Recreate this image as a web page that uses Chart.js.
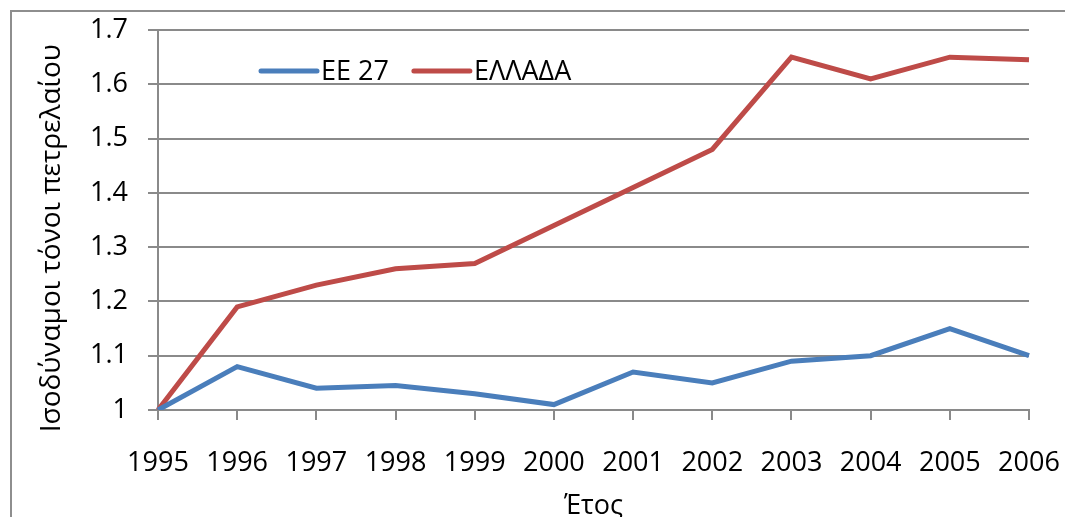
<!DOCTYPE html>
<html>
<head>
<meta charset="utf-8">
<script src="https://cdn.jsdelivr.net/npm/chart.js@4/dist/chart.umd.min.js"></script>
<style>
  html, body { margin: 0; padding: 0; background: #fff; overflow: hidden; }
  #wrap { position: relative; width: 1065px; height: 517px; }
  #frame {
    position: absolute; left: 10px; top: 10px; width: 1100px; height: 600px;
    border-left: 2px solid #8e8e8e; border-top: 2px solid #8e8e8e;
  }
  #chart { position: absolute; left: 0; top: 0; }
</style>
</head>
<body>
<div id="wrap">
  <div id="frame"></div>
  <canvas id="chart" width="1065" height="517"></canvas>
</div>
<script>
// Years on the x axis
const years = ["1995", "1996", "1997", "1998", "1999", "2000", "2001", "2002", "2003", "2004", "2005", "2006"];

// Index values (1995 = 1)
const ee27 = [1.0, 1.08, 1.04, 1.045, 1.03, 1.01, 1.07, 1.05, 1.09, 1.10, 1.15, 1.10];
const ellada = [1.0, 1.19, 1.23, 1.26, 1.27, 1.34, 1.41, 1.48, 1.65, 1.61, 1.65, 1.645];

const seriesNames = ["ΕΕ 27", "ΕΛΛΑΔΑ"];
const yTitle = "Ισοδύναμοι τόνοι πετρελαίου";
const xTitle = "Έτος";

const FONT = "'Open Sans', sans-serif";
const GRID = "#8a8a8a";

// legend drawn inside the plot area, like the original
const insideLegend = {
  id: "insideLegend",
  afterDatasetsDraw(chart) {
    const ctx = chart.ctx;
    const area = chart.chartArea;
    const y = area.top + 41;
    let x = area.left + 103;
    ctx.save();
    ctx.font = "27px " + FONT;
    ctx.textBaseline = "middle";
    ctx.lineCap = "round";
    chart.data.datasets.forEach((ds) => {
      ctx.strokeStyle = ds.borderColor;
      ctx.lineWidth = 5;
      ctx.beginPath();
      ctx.moveTo(x, y);
      ctx.lineTo(x + 56, y);
      ctx.stroke();
      ctx.fillStyle = "#000";
      ctx.fillText(ds.label, x + 60, y + 1);
      x += 60 + ctx.measureText(ds.label).width + 25;
    });
    ctx.restore();
  }
};

new Chart(document.getElementById("chart"), {
  type: "line",
  data: {
    labels: years,
    datasets: [
      {
        label: seriesNames[0],
        data: ee27,
        borderColor: "#4a7ebb",
        backgroundColor: "#4a7ebb",
        borderWidth: 5,
        pointRadius: 0,
        tension: 0
      },
      {
        label: seriesNames[1],
        data: ellada,
        borderColor: "#be4b48",
        backgroundColor: "#be4b48",
        borderWidth: 5,
        pointRadius: 0,
        tension: 0
      }
    ]
  },
  plugins: [insideLegend],
  options: {
    responsive: false,
    animation: false,
    layout: {
      padding: { top: 30, right: 36, left: 0, bottom: 0 }
    },
    plugins: {
      legend: { display: false },
      tooltip: { enabled: false }
    },
    scales: {
      x: {
        offset: false,
        grid: {
          drawOnChartArea: false,
          drawTicks: true,
          tickLength: 10,
          color: GRID,
          lineWidth: 2
        },
        border: { color: GRID, width: 2 },
        ticks: {
          color: "#000",
          font: { family: FONT, size: 27 },
          padding: 27,
          maxRotation: 0,
          autoSkip: false
        },
        title: {
          display: true,
          text: xTitle,
          color: "#000",
          font: { family: FONT, size: 27, lineHeight: 0.8 },
          padding: { top: 0, bottom: 0 }
        },
        afterFit(scale) {
          scale.height = 107;
          scale.paddingLeft = 0;
          scale.paddingRight = 0;
        }
      },
      y: {
        min: 1,
        max: 1.7,
        grid: {
          color: GRID,
          lineWidth: 2,
          tickLength: 10
        },
        border: { color: GRID, width: 2 },
        ticks: {
          stepSize: 0.1,
          color: "#000",
          font: { family: FONT, size: 27 },
          padding: 20,
          callback: (v) => String(+v.toFixed(1))
        },
        title: {
          display: true,
          // trailing spaces push the centred title a little lower, as in the original
          text: yTitle + "     ",
          color: "#000",
          font: { family: FONT, size: 28 },
          padding: { top: 35, bottom: 0 }
        },
        afterFit(scale) {
          scale.width = 158;
          scale.paddingTop = 0;
          scale.paddingBottom = 0;
        }
      }
    }
  }
});
</script>
</body>
</html>
